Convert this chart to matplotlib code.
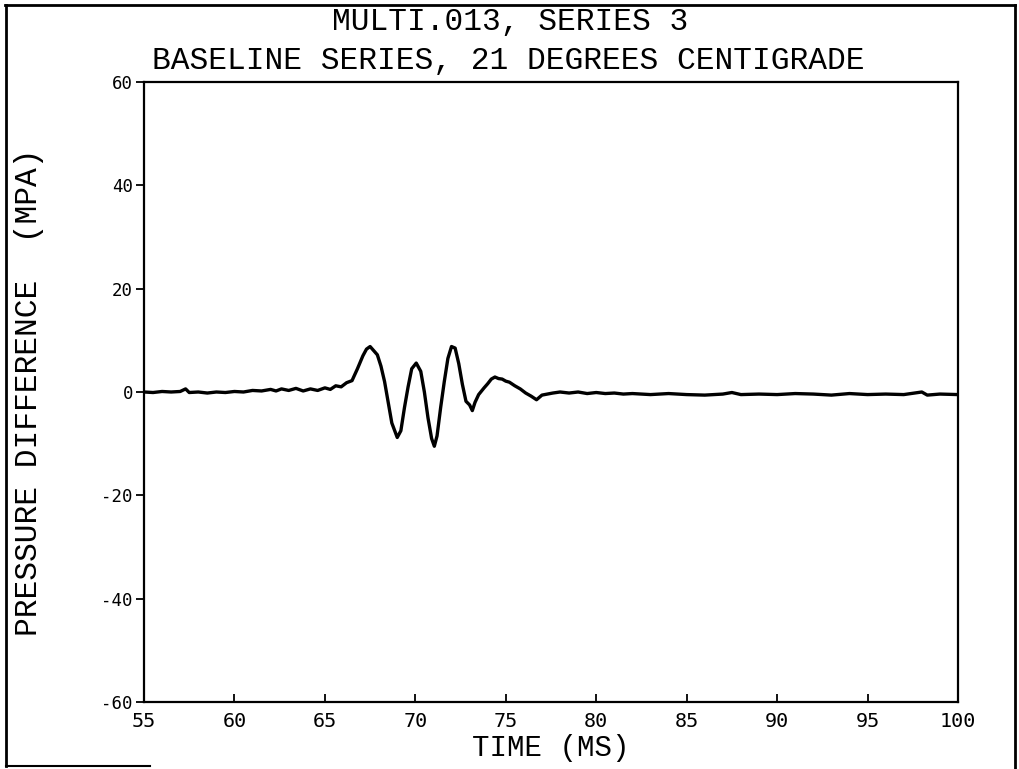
import matplotlib
matplotlib.use("Agg")
import matplotlib.pyplot as plt
from matplotlib.lines import Line2D

plt.rcParams['font.family'] = ['Liberation Mono', 'DejaVu Sans Mono']
TICKFONT = ['DejaVu Sans Mono']

title_lines = ["MULTI.013, SERIES 3", "BASELINE SERIES, 21 DEGREES CENTIGRADE"]
xlabel = "TIME (MS)"
ylabel = "PRESSURE DIFFERENCE  (MPA)"
xticks = [55, 60, 65, 70, 75, 80, 85, 90, 95, 100]
yticks = [-60, -40, -20, 0, 20, 40, 60]

time_ms = [55.0, 55.5, 56.0, 56.5, 57.0, 57.3, 57.5, 58.0, 58.5, 59.0, 59.5, 60.0,
           60.5, 61.0, 61.5, 62.0, 62.3, 62.6, 63.0, 63.4, 63.8, 64.2, 64.6, 65.0,
           65.3, 65.6, 65.9, 66.2, 66.5, 66.8, 67.1, 67.3, 67.5, 67.7, 67.9, 68.1,
           68.3, 68.5, 68.7, 69.0, 69.2, 69.4, 69.6, 69.8, 70.05, 70.3, 70.5, 70.7,
           70.9, 71.05, 71.2, 71.4, 71.6, 71.8, 72.0, 72.2, 72.4, 72.6, 72.8, 73.0,
           73.15, 73.3, 73.5, 73.8, 74.0, 74.2, 74.4, 74.6, 74.8, 75.0, 75.2, 75.5,
           75.8, 76.1, 76.4, 76.7, 77.0, 77.3, 77.6, 78.0, 78.5, 79.0, 79.5, 80.0,
           80.5, 81.0, 81.5, 82.0, 83.0, 84.0, 85.0, 86.0, 87.0, 87.5, 88.0, 89.0,
           90.0, 91.0, 92.0, 93.0, 94.0, 95.0, 96.0, 97.0, 98.0, 98.3, 99.0, 100.0]
pressure_mpa = [0.0, -0.1, 0.1, 0.0, 0.1, 0.6, -0.1, 0.0, -0.2, 0.0, -0.1, 0.1,
                0.0, 0.3, 0.2, 0.5, 0.2, 0.6, 0.3, 0.7, 0.2, 0.6, 0.3, 0.8,
                0.5, 1.2, 1.0, 1.8, 2.2, 4.5, 7.0, 8.3, 8.8, 8.0, 7.2, 5.0,
                2.0, -2.0, -6.0, -8.8, -7.5, -3.0, 1.0, 4.5, 5.6, 4.0, 0.0, -5.0,
                -9.0, -10.5, -8.5, -3.0, 2.0, 6.5, 8.8, 8.5, 5.5, 1.5, -1.8, -2.5,
                -3.6, -2.0, -0.5, 0.8, 1.6, 2.5, 2.9, 2.6, 2.5, 2.1, 1.9, 1.2,
                0.6, -0.2, -0.8, -1.5, -0.6, -0.4, -0.2, 0.0, -0.2, 0.0, -0.3, -0.1,
                -0.3, -0.2, -0.4, -0.3, -0.5, -0.3, -0.5, -0.6, -0.4, -0.1, -0.5, -0.4,
                -0.5, -0.3, -0.4, -0.6, -0.3, -0.5, -0.4, -0.5, 0.0, -0.6, -0.4, -0.5]

W, H = 1019, 769
fig = plt.figure(figsize=(W / 100, H / 100), dpi=100)
fig.patch.set_facecolor('white')

ax = fig.add_axes([144 / W, 1 - 702 / H, 814 / W, 620 / H])
ax.plot(time_ms, pressure_mpa, color='black', linewidth=2.4)
ax.set_xlim(55, 100)
ax.set_ylim(-60, 60)

ax.set_xticks(xticks)
ax.set_xticklabels([str(v) for v in xticks], fontsize=14.5, family=TICKFONT)
ax.set_yticks(yticks)
ax.set_yticklabels([str(v) for v in yticks], fontsize=12.5, family=TICKFONT)
ax.tick_params(axis='x', direction='in', length=6, width=1.3, pad=7)
ax.tick_params(axis='y', direction='out', length=6, width=1.3, pad=2)
for s in ax.spines.values():
    s.set_linewidth(1.6)

fig.text(551 / W, 1 - 748 / H, xlabel, ha='center', va='center', fontsize=21)
fig.text(29 / W, 1 - 392 / H, ylabel, ha='center', va='center', rotation=90, fontsize=22.5)
fig.text(510 / W, 1 - 22 / H, title_lines[0], ha='center', va='center', fontsize=22.5)
fig.text(508 / W, 1 - 61 / H, title_lines[1], ha='center', va='center', fontsize=22.5)

# outer frame of the scanned page
def fl(x0, y0, x1, y1, lw=2.0):
    fig.add_artist(Line2D([x0 / W, x1 / W], [1 - y0 / H, 1 - y1 / H],
                          transform=fig.transFigure, color='black', linewidth=lw))

fl(5, 5, 1015, 5)
fl(6, 5, 6, 766)
fl(1015, 5, 1015, 769)
fl(6, 766, 150, 766, lw=1.5)

fig.savefig('out.png', dpi=100, facecolor='white')
